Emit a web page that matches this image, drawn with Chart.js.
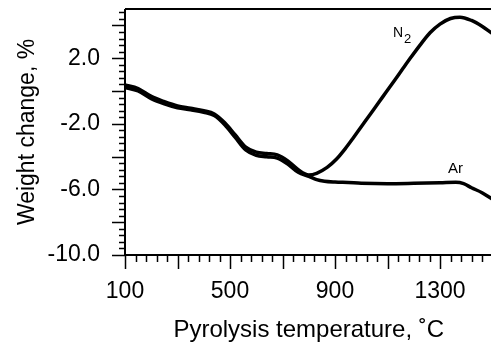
<!DOCTYPE html>
<html>
<head>
<meta charset="utf-8">
<script src="https://cdn.jsdelivr.net/npm/chart.js@4/dist/chart.umd.min.js"></script>
<style>
  html,body{margin:0;padding:0;background:#fff;overflow:hidden;}
  canvas{display:block;}
</style>
</head>
<body>
<canvas id="tga" width="500" height="350"></canvas>
<script>
  // --- data ---
  var n2Temps = [100,150,200,250,300,350,400,440,480,520,560,600,640,680,720,760,800,830,870,906,940,970,1000,1033,1065,1097,1130,1160,1190,1224,1262,1300,1340,1376,1420,1460,1500];
  var n2Weight = [0.37,0.15,-0.33,-0.65,-0.91,-1.05,-1.2,-1.4,-1.94,-2.68,-3.42,-3.73,-3.81,-3.89,-4.26,-4.8,-5.12,-5.02,-4.66,-4.15,-3.5,-2.85,-2.18,-1.45,-0.73,-0.02,0.72,1.4,2.07,2.8,3.55,4.08,4.42,4.5,4.3,3.95,3.5];

  var arTemps = [100,150,200,250,300,350,400,440,480,520,560,600,640,680,720,760,800,830,860,900,950,1000,1100,1200,1300,1360,1390,1420,1460,1500];
  var arWeight = [0.22,0.0,-0.47,-0.79,-1.03,-1.15,-1.3,-1.5,-2.06,-2.83,-3.6,-3.93,-4.01,-4.09,-4.45,-4.96,-5.2,-5.4,-5.5,-5.55,-5.58,-5.62,-5.65,-5.63,-5.6,-5.57,-5.65,-5.9,-6.2,-6.6];

  var xTickLabels = [100,500,900,1300];
  var yTickLabels = [2,-2,-6,-10];

  var FONT = "'Liberation Sans', Arial, Helvetica, sans-serif";

  function pts(xs, ys){ return xs.map(function(x,i){ return {x:x, y:ys[i]}; }); }

  // axis lines, box top and the minor/major tick marks
  var frame = {
    id:'frame',
    afterDraw:function(chart){
      var c = chart.ctx, a = chart.chartArea, xs = chart.scales.x, ys = chart.scales.y;
      c.save();
      c.strokeStyle = '#000';
      c.lineWidth = 2;
      c.beginPath();
      c.moveTo(a.left, a.top); c.lineTo(a.left, a.bottom); c.lineTo(a.right, a.bottom);
      c.moveTo(a.left, a.top); c.lineTo(a.right, a.top);
      c.stroke();
      c.lineWidth = 1.5;
      c.beginPath();
      for(var i=0; i<=37; i++){
        var v = -10 + i*0.4;
        var py = Math.round(ys.getPixelForValue(v)) + 0.5;
        var len = (i % 5 === 0) ? 13 : 6;
        c.moveTo(a.left, py); c.lineTo(a.left - len, py);
      }
      for(var t=100; t<=1500; t+=40){
        var px = Math.round(xs.getPixelForValue(t)) + 0.5;
        var l2 = ((t-100) % 200 === 0) ? 14 : 7;
        c.moveTo(px, a.bottom); c.lineTo(px, a.bottom + l2);
      }
      c.stroke();

      // curve labels
      c.fillStyle = '#000';
      c.textAlign = 'left';
      c.textBaseline = 'alphabetic';
      c.font = '14px ' + FONT;
      c.fillText('N', xs.getPixelForValue(1121), ys.getPixelForValue(3.28));
      c.font = '13px ' + FONT;
      c.fillText('2', xs.getPixelForValue(1163), ys.getPixelForValue(2.91));
      c.font = '15px ' + FONT;
      c.fillText('Ar', xs.getPixelForValue(1330), ys.getPixelForValue(-5.0));
      c.restore();
    }
  };

  function noPad(s){ s.paddingTop = 0; s.paddingBottom = 0; s.paddingLeft = 0; s.paddingRight = 0; }

  new Chart(document.getElementById('tga'),{
    type:'line',
    data:{
      datasets:[
        {label:'N2', data:pts(n2Temps,n2Weight), borderColor:'#000', borderWidth:3.5, pointRadius:0, cubicInterpolationMode:'monotone', fill:false},
        {label:'Ar', data:pts(arTemps,arWeight), borderColor:'#000', borderWidth:3.5, pointRadius:0, cubicInterpolationMode:'monotone', fill:false}
      ]
    },
    options:{
      responsive:false,
      animation:false,
      layout:{padding:{top:9,right:7.5,left:0,bottom:0}},
      plugins:{legend:{display:false},tooltip:{enabled:false}},
      scales:{
        x:{
          type:'linear', min:100, max:1500,
          afterBuildTicks:function(s){ s.ticks = xTickLabels.map(function(v){ return {value:v}; }); },
          afterFit:function(s){ s.height = 95; noPad(s); },
          grid:{display:false,drawTicks:false},
          border:{display:false},
          ticks:{autoSkip:false,maxRotation:0,padding:23,color:'#000',font:{family:FONT,size:23},callback:function(v){ return String(v); }},
          title:{display:true,text:'Pyrolysis temperature, ˚C',color:'#000',font:{family:FONT,size:24},padding:{top:0,bottom:5}}
        },
        y:{
          type:'linear', min:-10, max:5,
          afterBuildTicks:function(s){ s.ticks = yTickLabels.map(function(v){ return {value:v}; }); },
          afterFit:function(s){ s.width = 125; noPad(s); },
          grid:{display:false,drawTicks:false},
          border:{display:false},
          ticks:{autoSkip:false,padding:25,color:'#000',font:{family:FONT,size:23},callback:function(v){ return v.toFixed(1); }},
          title:{display:true,text:'Weight change, %',color:'#000',font:{family:FONT,size:23},padding:{top:14,bottom:0}}
        }
      }
    },
    plugins:[frame]
  });
</script>
</body>
</html>
